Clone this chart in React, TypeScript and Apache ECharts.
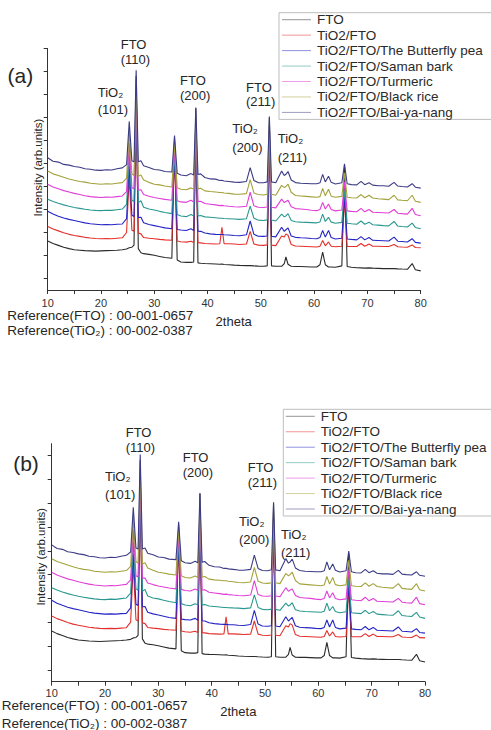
import React, { useEffect, useRef } from "react";
import * as echarts from "echarts";

// ---------- data ----------
const twoTheta = [
  10, 11, 12, 13, 14, 15, 16, 17, 18, 19,
  20, 21, 22, 23, 24, 24.8, 25.3, 25.8, 26.2, 26.6,
  27.0, 27.5, 28, 29, 30, 31, 32, 33.3, 33.8, 34.3,
  35, 36, 36.9, 37.4, 37.8, 38.2, 38.7, 39.5, 40.5, 41.5,
  42.3, 42.7, 43.1, 44, 45, 46, 47.3, 48.0, 48.7, 49.5,
  50.5, 51.2, 51.6, 52.0, 52.8, 53.9, 54.4, 54.7, 55.1, 55.7,
  56.5, 57.5, 58.5, 59.5, 60.5, 61.1, 61.6, 62.1, 62.7, 63.2,
  64, 65.2, 65.7, 66.2, 67, 68, 68.8, 69.5, 70.3, 71,
  72, 73, 74, 75.0, 75.7, 76.5, 77.5, 78.4, 79, 80,
];

const seriesNames = [
  "FTO",
  "TiO2/FTO",
  "TiO2/FTO/The Butterfly pea",
  "TiO2/FTO/Saman bark",
  "TiO2/FTO/Turmeric",
  "TiO2/FTO/Black rice",
  "TiO2/FTO/Bai-ya-nang",
];
const seriesColors = ["#2b2b2b", "#e3302c", "#2424c4", "#2a9890", "#e03ed6", "#a3a23c", "#3b3b86"];

const ftoValues = [
  2.13, 2.02, 1.94, 1.86, 1.8, 1.75, 1.73, 1.71, 1.7, 1.69,
  1.7, 1.71, 1.72, 1.73, 1.75, 1.78, 1.84, 1.86, 1.95, 9.3,
  1.8, 1.62, 1.58, 1.55, 1.51, 1.46, 1.41, 1.38, 6.6, 1.3,
  1.22, 1.2, 1.2, 1.22, 7.9, 1.18, 1.16, 1.15, 1.14, 1.13,
  1.12, 1.13, 1.11, 1.1, 1.08, 1.07, 1.06, 1.06, 1.05, 1.04,
  1.03, 1.05, 7.5, 1.05, 1.03, 1.03, 1.15, 1.44, 1.12, 1.03,
  1.02, 1.02, 1.01, 1.0, 1.0, 1.1, 1.65, 1.1, 1.0, 1.0,
  0.99, 1.05, 5.4, 1.02, 0.99, 0.97, 0.96, 0.95, 0.96, 0.95,
  0.94, 0.93, 0.93, 0.93, 0.92, 0.91, 0.9, 1.15, 0.88, 0.83,
];
const tio2Values = [
  2.76, 2.65, 2.57, 2.49, 2.42, 2.37, 2.33, 2.29, 2.26, 2.24,
  2.23, 2.24, 2.23, 2.25, 2.27, 2.5, 4.9, 2.6, 2.55, 7.7,
  2.48, 2.44, 2.28, 2.25, 2.23, 2.2, 2.18, 2.16, 5.8, 2.13,
  2.1, 2.08, 2.12, 2.07, 6.6, 2.06, 2.05, 2.02, 2.01, 2.0,
  2.01, 2.73, 2.01, 2.01, 2.0, 1.98, 2.0, 2.55, 2.0, 1.95,
  1.94, 1.96, 6.2, 1.95, 1.93, 2.35, 2.3, 2.44, 2.38, 1.98,
  1.91, 1.9, 1.89, 1.88, 1.87, 1.9, 2.15, 1.92, 2.09, 1.9,
  1.88, 1.9, 3.9, 1.89, 1.89, 1.89, 2.02, 1.9, 2.0, 1.9,
  1.9, 1.89, 1.89, 1.98, 1.88, 1.87, 1.86, 1.96, 1.85, 1.84,
];
const butterflyPeaValues = [
  3.42, 3.3, 3.21, 3.13, 3.07, 3.02, 2.97, 2.92, 2.88, 2.86,
  2.84, 2.85, 2.84, 2.86, 2.87, 3.1, 5.4, 3.25, 3.2, 8.0,
  3.15, 3.16, 2.92, 2.85, 2.8, 2.75, 2.7, 2.66, 5.95, 2.63,
  2.61, 2.59, 2.66, 2.58, 6.8, 2.56, 2.55, 2.48, 2.44, 2.42,
  2.41, 2.41, 2.4, 2.39, 2.37, 2.36, 2.4, 3.0, 2.42, 2.34,
  2.33, 2.35, 6.4, 2.34, 2.31, 2.73, 2.55, 2.62, 2.7, 2.35,
  2.29, 2.27, 2.26, 2.24, 2.23, 2.28, 2.59, 2.3, 2.59, 2.28,
  2.22, 2.25, 4.1, 2.22, 2.2, 2.18, 2.32, 2.18, 2.28, 2.16,
  2.15, 2.14, 2.13, 2.3, 2.12, 2.11, 2.09, 2.23, 2.07, 2.04,
];
const samanBarkValues = [
  3.95, 3.85, 3.77, 3.7, 3.64, 3.59, 3.55, 3.51, 3.48, 3.46,
  3.45, 3.47, 3.46, 3.49, 3.52, 3.72, 5.9, 3.9, 3.85, 8.3,
  3.8, 3.88, 3.6, 3.52, 3.48, 3.42, 3.37, 3.32, 6.1, 3.28,
  3.22, 3.19, 3.28, 3.22, 7.05, 3.22, 3.24, 3.18, 3.16, 3.14,
  3.12, 3.12, 3.11, 3.1, 3.09, 3.07, 3.1, 3.65, 3.12, 3.04,
  3.02, 3.05, 6.6, 3.04, 3.0, 3.3, 3.18, 3.22, 3.32, 3.02,
  2.97, 2.95, 2.94, 2.93, 2.92, 2.96, 3.3, 2.98, 3.16, 2.95,
  2.9, 2.94, 4.35, 2.9, 2.88, 2.86, 3.0, 2.86, 2.95, 2.84,
  2.82, 2.8, 2.79, 2.98, 2.78, 2.76, 2.74, 2.91, 2.72, 2.66,
];
const turmericValues = [
  4.6, 4.48, 4.4, 4.32, 4.26, 4.2, 4.15, 4.1, 4.06, 4.04,
  4.02, 4.04, 4.03, 4.06, 4.09, 4.28, 6.4, 4.45, 4.4, 8.6,
  4.35, 4.36, 4.15, 4.08, 4.02, 3.98, 3.94, 3.9, 6.25, 3.88,
  3.83, 3.81, 3.9, 3.83, 7.3, 3.85, 3.86, 3.76, 3.73, 3.7,
  3.67, 3.68, 3.66, 3.64, 3.62, 3.61, 3.64, 4.25, 3.66, 3.6,
  3.59, 3.61, 6.9, 3.6, 3.57, 3.95, 3.8, 3.85, 3.9, 3.62,
  3.54, 3.52, 3.5, 3.47, 3.45, 3.5, 3.81, 3.52, 3.74, 3.5,
  3.44, 3.48, 4.7, 3.44, 3.42, 3.4, 3.55, 3.4, 3.5, 3.38,
  3.37, 3.36, 3.35, 3.5, 3.34, 3.32, 3.3, 3.55, 3.28, 3.23,
];
const blackRiceValues = [
  5.17, 5.05, 4.98, 4.9, 4.83, 4.77, 4.72, 4.69, 4.64, 4.62,
  4.6, 4.62, 4.61, 4.64, 4.67, 4.85, 6.9, 5.05, 4.98, 9.0,
  4.95, 5.0, 4.78, 4.68, 4.6, 4.57, 4.52, 4.48, 6.45, 4.45,
  4.38, 4.36, 4.44, 4.38, 7.6, 4.4, 4.42, 4.31, 4.28, 4.26,
  4.24, 4.24, 4.22, 4.2, 4.17, 4.16, 4.19, 4.8, 4.22, 4.15,
  4.13, 4.16, 7.2, 4.16, 4.12, 4.55, 4.45, 4.5, 4.6, 4.25,
  4.11, 4.09, 4.07, 4.05, 4.03, 4.06, 4.42, 4.1, 4.38, 4.08,
  4.03, 4.07, 5.1, 4.03, 4.01, 4.0, 4.15, 4.01, 4.12, 4.0,
  3.97, 3.95, 3.93, 4.12, 3.92, 3.9, 3.88, 4.12, 3.86, 3.81,
];
const baiYaNangValues = [
  5.75, 5.6, 5.56, 5.46, 5.43, 5.37, 5.34, 5.27, 5.25, 5.21,
  5.2, 5.23, 5.22, 5.27, 5.31, 5.45, 7.33, 5.62, 5.58, 9.55,
  5.58, 5.62, 5.4, 5.33, 5.24, 5.22, 5.15, 5.13, 6.72, 5.08,
  5.0, 4.97, 5.06, 5.0, 7.93, 5.02, 5.05, 4.89, 4.83, 4.82,
  4.76, 4.77, 4.74, 4.72, 4.69, 4.68, 4.72, 5.32, 4.76, 4.67,
  4.66, 4.7, 7.54, 4.7, 4.66, 5.17, 4.98, 5.03, 5.15, 4.78,
  4.67, 4.64, 4.63, 4.62, 4.62, 4.66, 5.03, 4.7, 4.95, 4.68,
  4.61, 4.66, 5.49, 4.62, 4.58, 4.57, 4.72, 4.58, 4.66, 4.56,
  4.53, 4.53, 4.51, 4.68, 4.52, 4.5, 4.48, 4.62, 4.47, 4.43,
];
const allValues = [ftoValues, tio2Values, butterflyPeaValues, samanBarkValues, turmericValues, blackRiceValues, baiYaNangValues];

const yTickValues = [0.5, 1.5, 2.5, 3.5, 4.5, 5.5, 6.5, 7.5, 8.5, 9.5, 10.5];
const peakLabels = [
  ["TiO₂", "(101)"],
  ["FTO", "(110)"],
  ["FTO", "(200)"],
  ["FTO", "(211)"],
  ["TiO₂", "(200)"],
  ["TiO₂", "(211)"],
];
const referenceLines = ["Reference(FTO) : 00-001-0657", "Reference(TiO₂) : 00-002-0387"];
const xAxisTitle = "2theta";
const yAxisTitle = "Intensity (arb.units)";

// ---------- layout ----------
const FONT = "'Liberation Sans', Arial, sans-serif";
const panels = [
  {
    tag: "(a)", tagPos: [20.3, 75],
    left: 47.7, right: 420.7, axisY: 290, yMax: 10.5, unit: 23, labelMargin: 7,
    legendLeft: 279, legendTop: 12.7, legendPadLeft: 3,
    peakPos: [[97.7, 92, 109], [120.7, 44, 59], [180, 80, 95], [246, 87, 101], [232.3, 128, 147], [277.7, 138, 157]],
    refPos: [[7.3, 315], [7.3, 330.7]],
    xTitlePos: [233.7, 321], yTitlePos: [38.3, 167.5],
  },
  {
    tag: "(b)", tagPos: [26, 463.3],
    left: 51.7, right: 425, axisY: 681.7, yMax: 10, unit: 23.8, labelMargin: 5.5,
    legendLeft: 283.3, legendTop: 409.3, legendPadLeft: 2.5,
    peakPos: [[105, 476, 494.3], [125.7, 432.7, 447.3], [182.7, 457.7, 472.3], [247.7, 467.3, 482], [239, 521.7, 539.3], [281, 534, 552.7]],
    refPos: [[1.7, 705], [1.7, 723.3]],
    xTitlePos: [238.3, 711], yTitlePos: [40.7, 556.7],
  },
];

function txt(text: string, x: number, y: number, fontSize: number, align = "center", rotation = 0) {
  return {
    type: "text",
    x, y, rotation,
    silent: true,
    style: {
      text, fontSize, fontFamily: FONT, fill: "#262626",
      textAlign: align, textVerticalAlign: "middle",
      align, verticalAlign: "middle",
    },
  };
}

export default function App() {
  const ref = useRef<HTMLDivElement>(null);
  useEffect(() => {
    if (!ref.current) return;
    const chart = echarts.init(ref.current, null, { renderer: "svg" });

    const grids: any[] = [];
    const xAxes: any[] = [];
    const yAxes: any[] = [];
    const series: any[] = [];
    const legends: any[] = [];
    const graphics: any[] = [];

    panels.forEach((p, pi) => {
      const height = p.yMax * p.unit;
      grids.push({ left: p.left, width: p.right - p.left, top: p.axisY - height, height, containLabel: false });
      xAxes.push({
        type: "value", gridIndex: pi, min: 10, max: 80, interval: 10,
        axisLine: { show: true, lineStyle: { color: "#333", width: 1 } },
        axisTick: { show: true, length: 4, lineStyle: { color: "#333" } },
        minorTick: { show: true, splitNumber: 2, length: 4, lineStyle: { color: "#333" } },
        splitLine: { show: false },
        axisLabel: { color: "#333", fontSize: 11, fontFamily: FONT, margin: p.labelMargin },
      });
      yAxes.push({
        type: "value", gridIndex: pi, min: 0, max: p.yMax,
        axisLine: { show: true, lineStyle: { color: "#333", width: 1 } },
        axisTick: { show: true, length: 4, customValues: yTickValues.filter((v) => v <= p.yMax), lineStyle: { color: "#333" } },
        axisLabel: { show: false },
        splitLine: { show: false },
      });
      seriesNames.forEach((name, si) => {
        series.push({
          type: "line", name, xAxisIndex: pi, yAxisIndex: pi,
          data: twoTheta.map((x, i) => [x, allValues[si][i]]),
          symbol: "none", showSymbol: false,
          lineStyle: { width: 1.1, color: seriesColors[si] },
          itemStyle: { color: seriesColors[si] },
          z: 2 + si,
        });
      });
      legends.push({
        orient: "vertical", left: p.legendLeft, top: p.legendTop,
        padding: [0, 16, 0, p.legendPadLeft],
        data: seriesNames,
        icon: "rect", itemWidth: 29, itemHeight: 1, itemGap: 1.45,
        itemStyle: { opacity: 0.5 },
        borderColor: "#bdbdbd", borderWidth: 1,
        selectedMode: false,
        textStyle: { fontSize: 13.5, lineHeight: 13, color: "#2a2a2a", fontFamily: FONT, padding: [0, 0, 0, 1] },
      });
      graphics.push(txt(p.tag, p.tagPos[0], p.tagPos[1], 21));
      peakLabels.forEach((lab, li) => {
        const pos = p.peakPos[li];
        graphics.push(txt(lab[0], pos[0], pos[1], 13, "left"));
        graphics.push(txt(lab[1], pos[0], pos[2], 13, "left"));
      });
      referenceLines.forEach((r, ri) => graphics.push(txt(r, p.refPos[ri][0], p.refPos[ri][1], 13.5, "left")));
      graphics.push(txt(xAxisTitle, p.xTitlePos[0], p.xTitlePos[1], 13));
      graphics.push(txt(yAxisTitle, p.yTitlePos[0], p.yTitlePos[1], 11.5, "center", Math.PI / 2));
    });

    chart.setOption({
      animation: false,
      backgroundColor: "#ffffff",
      grid: grids,
      xAxis: xAxes,
      yAxis: yAxes,
      legend: legends,
      series,
      graphic: graphics,
    });
    return () => chart.dispose();
  }, []);
  return <div ref={ref} style={{ position: "absolute", left: 0, top: 0, width: 491, height: 730 }} />;
}
